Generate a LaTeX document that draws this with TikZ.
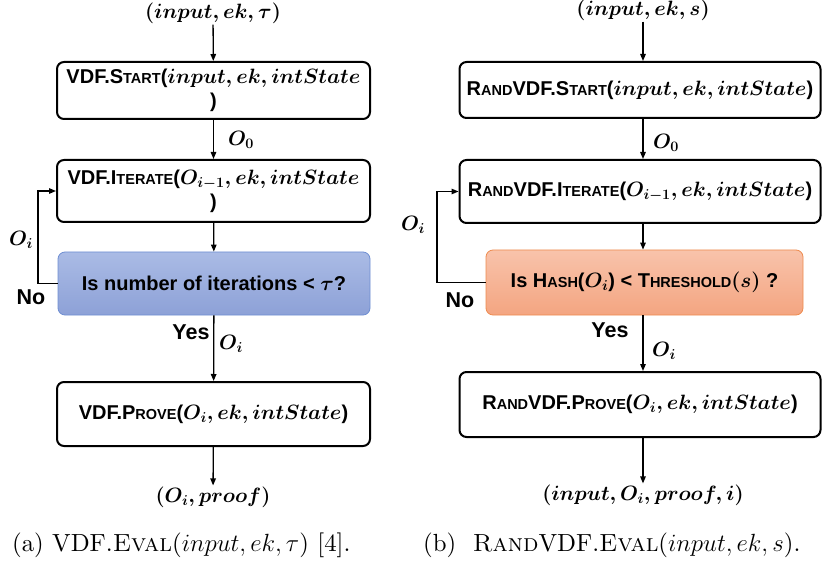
\documentclass[tikz,border=0pt]{standalone}
\usepackage{amsmath}
\usepackage{fontspec}
\newfontfamily\arialfont{Liberation Sans}
\newfontfamily\capfont{lmroman10-regular.otf}[
   ItalicFont=lmroman10-italic.otf,
   SmallCapsFont=lmromancaps10-regular.otf]
\usetikzlibrary{arrows.meta,positioning}
\definecolor{itertop}{HTML}{AABBE5}
\definecolor{iterbot}{HTML}{8DA1D7}
\definecolor{iterline}{HTML}{6E8ED2}
\definecolor{hashtop}{HTML}{F8C3AB}
\definecolor{hashbot}{HTML}{F4A581}
\definecolor{hashline}{HTML}{EE8B4E}
\tikzset{%
   blk/.style={
      draw=black,
      line width=2pt,
      rounded corners=7pt,
      align=center,
      inner sep=2pt,
      font=\arialfont\bfseries\boldmath\fontsize{20}{24}\selectfont
   },
   iter/.style={
      blk,
      draw=iterline,
      line width=0.8pt,
      top color=itertop,
      bottom color=iterbot
   },
   hash/.style={
      blk,
      draw=hashline,
      line width=0.8pt,
      top color=hashtop,
      bottom color=hashbot
   },
   lbl/.style={
      inner sep=1pt,
      font=\arialfont\bfseries\boldmath\fontsize{21}{24}\selectfont
   },
   yn/.style={
      inner sep=1pt,
      font=\arialfont\bfseries\fontsize{21.5}{24}\selectfont
   },
   arr/.style={
      -{Triangle[length=7pt,width=5.5pt]},
      line width=1.3pt
   },
   captxt/.style={
      anchor=west,
      inner sep=0pt,
      font=\capfont\fontsize{24.8}{28}\selectfont
   },
}
\newcommand\smc[1]{{\fontsize{14.5}{16}\selectfont #1}}

\begin{document}
\begin{tikzpicture}[x=1pt, y=-1pt]
   \useasboundingbox (0,0) rectangle (822,564);
   % (a) VDF
   \node[lbl] (a0) at (213,13) {$(input, ek, \tau)$};
   \node[blk, minimum width=313pt, minimum height=57pt] (a1) at (213.5,90.5)
      {VDF.S\smc{TART}($input, ek, intState$\\)};
   \node[blk, minimum width=313pt, minimum height=62pt] (a2) at (213.5,191)
      {VDF.I\smc{TERATE}($O_{i-1}, ek, intState$\\)};
   \node[iter, minimum width=312pt, minimum height=63pt] (a3) at (214,283.5)
      {Is number of iterations < $\tau$?};
   \node[blk, minimum width=313pt, minimum height=64pt] (a4) at (213.5,414)
      {VDF.P\smc{ROVE}($O_i, ek, intState$)};
   \node[lbl] (a5) at (213,497) {$(O_i, proof)$};
   \coordinate (aL) at (38,0);
   \draw[arr] (a0) -- (a1);
   \draw[arr] (a1) -- (a2);
   \draw[arr] (a2) -- (a3);
   \draw[arr] (a3) -- (a4);
   \draw[arr] (a4) -- (a5);
   \draw[arr] (a3.west) -- (a3.west -| aL) |- (a2.west);
   \node[lbl] (a6) at (241,140) {$O_0$};
   \node[lbl] (a7) at (21,240) {$O_i$};
   \node[yn] (a8) at (31,297) {No};
   \node[yn] (a9) at (191,332) {Yes};
   \node[lbl] (a10) at (231,344) {$O_i$};
   \node[captxt] (ac) at (12,545)
      {(a) VDF.\textsc{Eval}($input, ek, \tau$) [4].};
   % (b) RandVDF
   \node[lbl] (b0) at (643,10) {$(input, ek, s)$};
   \node[blk, minimum width=361pt, minimum height=56pt] (b1) at (640,90)
      {R\smc{AND}VDF.S\smc{TART}($input, ek, intState$)};
   \node[blk, minimum width=361pt, minimum height=63pt] (b2) at (640,191.5)
      {R\smc{AND}VDF.I\smc{TERATE}($O_{i-1}, ek, intState$)};
   \node[hash, minimum width=317pt, minimum height=65pt] (b3) at (644.5,282.5)
      {Is H\smc{ASH}($O_i$) < T\smc{HRESHOLD}$(s)$ ?};
   \node[blk, minimum width=361pt, minimum height=65pt] (b4) at (640,404.5)
      {R\smc{AND}VDF.P\smc{ROVE}($O_i, ek, intState$)};
   \node[lbl] (b5) at (643,495) {$(input, O_i, proof, i)$};
   \coordinate (bL) at (437,0);
   \draw[arr] (b0) -- (b1.north -| b0);
   \draw[arr] (b1.south -| b0) -- (b2.north -| b0);
   \draw[arr] (b2.south -| b0) -- (b3.north -| b0);
   \draw[arr] (b3.south -| b0) -- (b4.north -| b0);
   \draw[arr] (b4.south -| b0) -- (b5);
   \draw[arr] (b3.west) -- (b3.west -| bL) |- (b2.west);
   \node[lbl] (b6) at (666,143) {$O_0$};
   \node[lbl] (b7) at (413,225) {$O_i$};
   \node[yn] (b8) at (460,300) {No};
   \node[yn] (b9) at (610,330) {Yes};
   \node[lbl] (b10) at (664,351) {$O_i$};
   \node[captxt] (bc) at (423,545)
      {(b)\ \ \textsc{Rand}VDF.\textsc{Eval}($input, ek, s$).};
\end{tikzpicture}
\end{document}
